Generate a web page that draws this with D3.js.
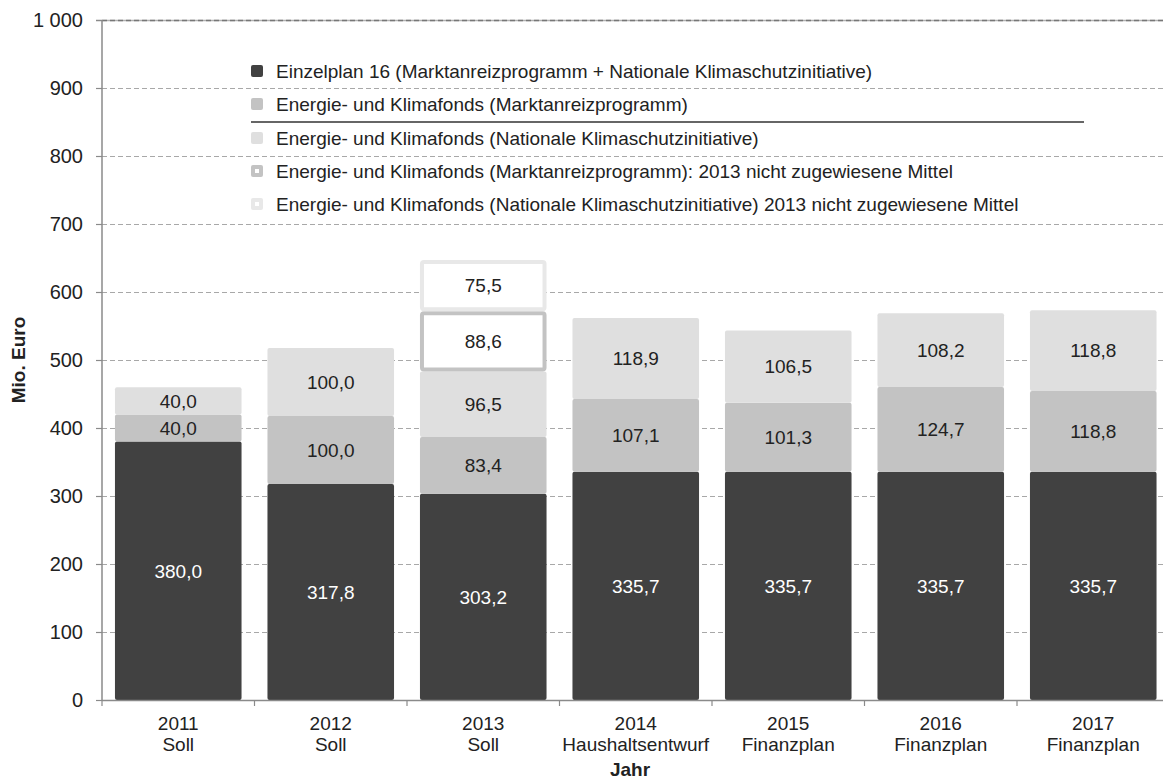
<!DOCTYPE html>
<html>
<head>
<meta charset="utf-8">
<script src="https://cdn.jsdelivr.net/npm/d3@7/dist/d3.min.js"></script>
<style>
  html, body { margin: 0; padding: 0; background: #fff; }
  svg { display: block; font-family: "Liberation Sans", Arial, sans-serif; }
</style>
</head>
<body>
<svg id="chart" width="1163" height="781"></svg>
<script>
// Budget years and their status lines
const years = ["2011", "2012", "2013", "2014", "2015", "2016", "2017"];
const status = ["Soll", "Soll", "Soll", "Haushaltsentwurf", "Finanzplan", "Finanzplan", "Finanzplan"];

// Mio. Euro per funding source
const einzelplan16 = [380.0, 317.8, 303.2, 335.7, 335.7, 335.7, 335.7];
const ekfMarktanreiz = [40.0, 100.0, 83.4, 107.1, 101.3, 124.7, 118.8];
const ekfKlimaschutz = [40.0, 100.0, 96.5, 118.9, 106.5, 108.2, 118.8];
// 2013 funds that were not allocated (only 2013 has values)
const ekfMarktanreizNichtZugewiesen = [0, 0, 88.6, 0, 0, 0, 0];
const ekfKlimaschutzNichtZugewiesen = [0, 0, 75.5, 0, 0, 0, 0];

const yTicks = [0, 100, 200, 300, 400, 500, 600, 700, 800, 900, 1000];

const legendLabels = [
  "Einzelplan 16 (Marktanreizprogramm + Nationale Klimaschutzinitiative)",
  "Energie- und Klimafonds (Marktanreizprogramm)",
  "Energie- und Klimafonds (Nationale Klimaschutzinitiative)",
  "Energie- und Klimafonds (Marktanreizprogramm): 2013 nicht zugewiesene Mittel",
  "Energie- und Klimafonds (Nationale Klimaschutzinitiative) 2013 nicht zugewiesene Mittel"
];

const cDark = "#414141", cMid = "#c3c3c3", cLight = "#dfdfdf", cPale = "#e8e8e8";

const series = [
  { values: einzelplan16, fill: cDark, stroke: null, text: "#ffffff" },
  { values: ekfMarktanreiz, fill: cMid, stroke: null, text: "#222" },
  { values: ekfKlimaschutz, fill: cLight, stroke: null, text: "#222" },
  { values: ekfMarktanreizNichtZugewiesen, fill: "#ffffff", stroke: cMid, text: "#222" },
  { values: ekfKlimaschutzNichtZugewiesen, fill: "#ffffff", stroke: cPale, text: "#222" }
];

const FS = 19;
const svg = d3.select("#chart");
const margin = { left: 102, top: 20, bottom: 700 };
const step = 152.5;
const x = d3.scaleBand().domain(years)
  .range([margin.left, margin.left + step * years.length])
  .paddingInner(0.17).paddingOuter(0.085);
const y = d3.scaleLinear().domain([0, 1000]).range([margin.bottom, margin.top]);
const fmt = v => d3.format(".1f")(v).replace(".", ",");

// horizontal gridlines
const gridG = svg.append("g");
yTicks.filter(t => t > 0 && t < 1000).forEach(t => {
  gridG.append("line")
    .attr("x1", margin.left).attr("x2", 1163)
    .attr("y1", y(t) + 0.5).attr("y2", y(t) + 0.5)
    .attr("stroke", "#a8a8a8").attr("stroke-width", 1.2)
    .attr("stroke-dasharray", "5,3");
});
// top border line
gridG.append("line")
  .attr("x1", margin.left - 6).attr("x2", 1163)
  .attr("y1", y(1000) + 0.5).attr("y2", y(1000) + 0.5)
  .attr("stroke", "#b0b0b0").attr("stroke-width", 1.5);
gridG.append("line")
  .attr("x1", margin.left).attr("x2", 1163)
  .attr("y1", y(1000) + 0.5).attr("y2", y(1000) + 0.5)
  .attr("stroke", "#777").attr("stroke-width", 1.5)
  .attr("stroke-dasharray", "5,3");

// stacked bars
const stack = d3.stack().keys(d3.range(series.length))
  .value((d, k) => series[k].values[d]);
const stacked = stack(d3.range(years.length));

const barG = svg.append("g");
stacked.forEach((layer, k) => {
  const s = series[k];
  layer.forEach((seg, i) => {
    const v = s.values[i];
    if (!v) return;
    const x0 = x(years[i]), w = x.bandwidth();
    const yTop = y(seg[1]), yBot = y(seg[0]);
    if (s.stroke) {
      const sw = 4;
      barG.append("rect")
        .attr("x", x0 + sw / 2).attr("y", yTop + sw / 2)
        .attr("width", w - sw).attr("height", yBot - yTop - sw)
        .attr("rx", 2)
        .attr("fill", s.fill).attr("stroke", s.stroke).attr("stroke-width", sw);
    } else {
      barG.append("rect")
        .attr("x", x0).attr("y", yTop)
        .attr("width", w).attr("height", yBot - yTop)
        .attr("rx", 2)
        .attr("fill", s.fill);
    }
    barG.append("text")
      .attr("x", x0 + w / 2).attr("y", (yTop + yBot) / 2)
      .attr("dy", "0.36em")
      .attr("text-anchor", "middle")
      .attr("font-size", FS)
      .attr("fill", s.text)
      .text(fmt(v));
  });
});

// y axis
const axisCol = "#8a8a8a";
svg.append("line")
  .attr("x1", margin.left).attr("x2", margin.left)
  .attr("y1", y(1000)).attr("y2", y(0))
  .attr("stroke", axisCol).attr("stroke-width", 1.5);
const yAxisG = svg.append("g");
yTicks.forEach(t => {
  yAxisG.append("line")
    .attr("x1", margin.left - 6).attr("x2", margin.left)
    .attr("y1", y(t) + 0.5).attr("y2", y(t) + 0.5)
    .attr("stroke", axisCol).attr("stroke-width", 1.2);
  yAxisG.append("text")
    .attr("x", 83).attr("y", y(t)).attr("dy", "0.36em")
    .attr("text-anchor", "end").attr("font-size", 20).attr("fill", "#222")
    .text(d3.format(",")(t).replace(",", " "));
});

// x axis
svg.append("line")
  .attr("x1", margin.left).attr("x2", 1163)
  .attr("y1", y(0) + 0.5).attr("y2", y(0) + 0.5)
  .attr("stroke", axisCol).attr("stroke-width", 1.5);
const xAxisG = svg.append("g");
d3.range(years.length + 1).forEach(i => {
  const xx = margin.left + i * step;
  xAxisG.append("line")
    .attr("x1", xx).attr("x2", xx)
    .attr("y1", y(0)).attr("y2", y(0) + 6)
    .attr("stroke", axisCol).attr("stroke-width", 1.2);
});
years.forEach((yr, i) => {
  const cx = x(yr) + x.bandwidth() / 2;
  const t = xAxisG.append("text")
    .attr("text-anchor", "middle").attr("font-size", FS).attr("fill", "#222");
  t.append("tspan").attr("x", cx).attr("y", 730).text(yr);
  t.append("tspan").attr("x", cx).attr("y", 751).text(status[i]);
});

// axis titles
svg.append("text")
  .attr("x", 630).attr("y", 776)
  .attr("text-anchor", "middle").attr("font-size", FS)
  .attr("font-weight", "bold").attr("fill", "#222")
  .text("Jahr");
svg.append("text")
  .attr("transform", "translate(25,360) rotate(-90)")
  .attr("text-anchor", "middle").attr("font-size", FS)
  .attr("font-weight", "bold").attr("fill", "#222")
  .text("Mio. Euro");

// legend
const legendG = svg.append("g");
legendG.append("line")
  .attr("x1", 251).attr("x2", 1084)
  .attr("y1", 122).attr("y2", 122)
  .attr("stroke", "#666").attr("stroke-width", 2);
const legY = [71, 104, 138, 171, 204];
series.forEach((s, k) => {
  const cy = legY[k];
  legendG.append("rect")
    .attr("x", 251).attr("y", cy - 6).attr("width", 12).attr("height", 12)
    .attr("rx", 2).attr("fill", s.stroke ? s.stroke : s.fill);
  if (s.stroke) {
    legendG.append("rect")
      .attr("x", 255).attr("y", cy - 2).attr("width", 4).attr("height", 4)
      .attr("fill", "#fff");
  }
  legendG.append("text")
    .attr("x", 276).attr("y", cy).attr("dy", "0.36em")
    .attr("font-size", FS).attr("fill", "#222")
    .text(legendLabels[k]);
});
</script>
</body>
</html>
